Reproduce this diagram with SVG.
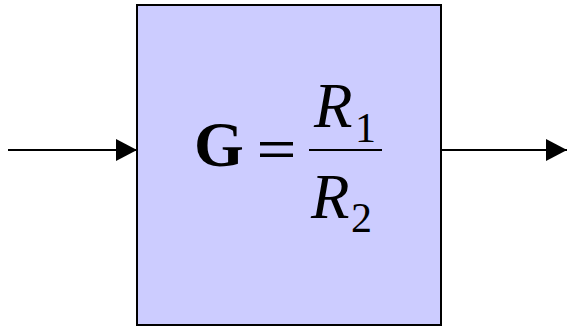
<svg xmlns="http://www.w3.org/2000/svg" width="567" height="326" viewBox="0 0 567 326">
<defs>
<marker id="ah" markerWidth="21" markerHeight="22" refX="21" refY="11" orient="auto" markerUnits="userSpaceOnUse">
<path d="M0,0 L21,11 L0,22 Z" fill="#000"/>
</marker>
</defs>
<rect width="567" height="326" fill="#fff"/>
<g id="block" font-family="'Liberation Serif', 'Times New Roman', serif" fill="#000">
<rect x="137" y="5" width="304" height="320" fill="#ccccff" stroke="#000" stroke-width="2"/>
<text x="194" y="166" font-size="64" font-weight="bold">G</text>
<rect x="260" y="142" width="33" height="3.5" fill="#000"/>
<rect x="260" y="153.5" width="33" height="3.5" fill="#000"/>
<line x1="309" y1="150" x2="382" y2="150" stroke="#000" stroke-width="2"/>
<text x="314" y="127" font-size="63" font-style="italic">R</text>
<text x="355" y="142" font-size="42">1</text>
<text x="311" y="218" font-size="63" font-style="italic">R</text>
<text x="351" y="232" font-size="42">2</text>
</g>
<g id="connectors">
<line x1="8" y1="150" x2="137" y2="150" stroke="#000" stroke-width="2" marker-end="url(#ah)"/>
<line x1="441" y1="150" x2="567" y2="150" stroke="#000" stroke-width="2" marker-end="url(#ah)"/>
</g>
</svg>
